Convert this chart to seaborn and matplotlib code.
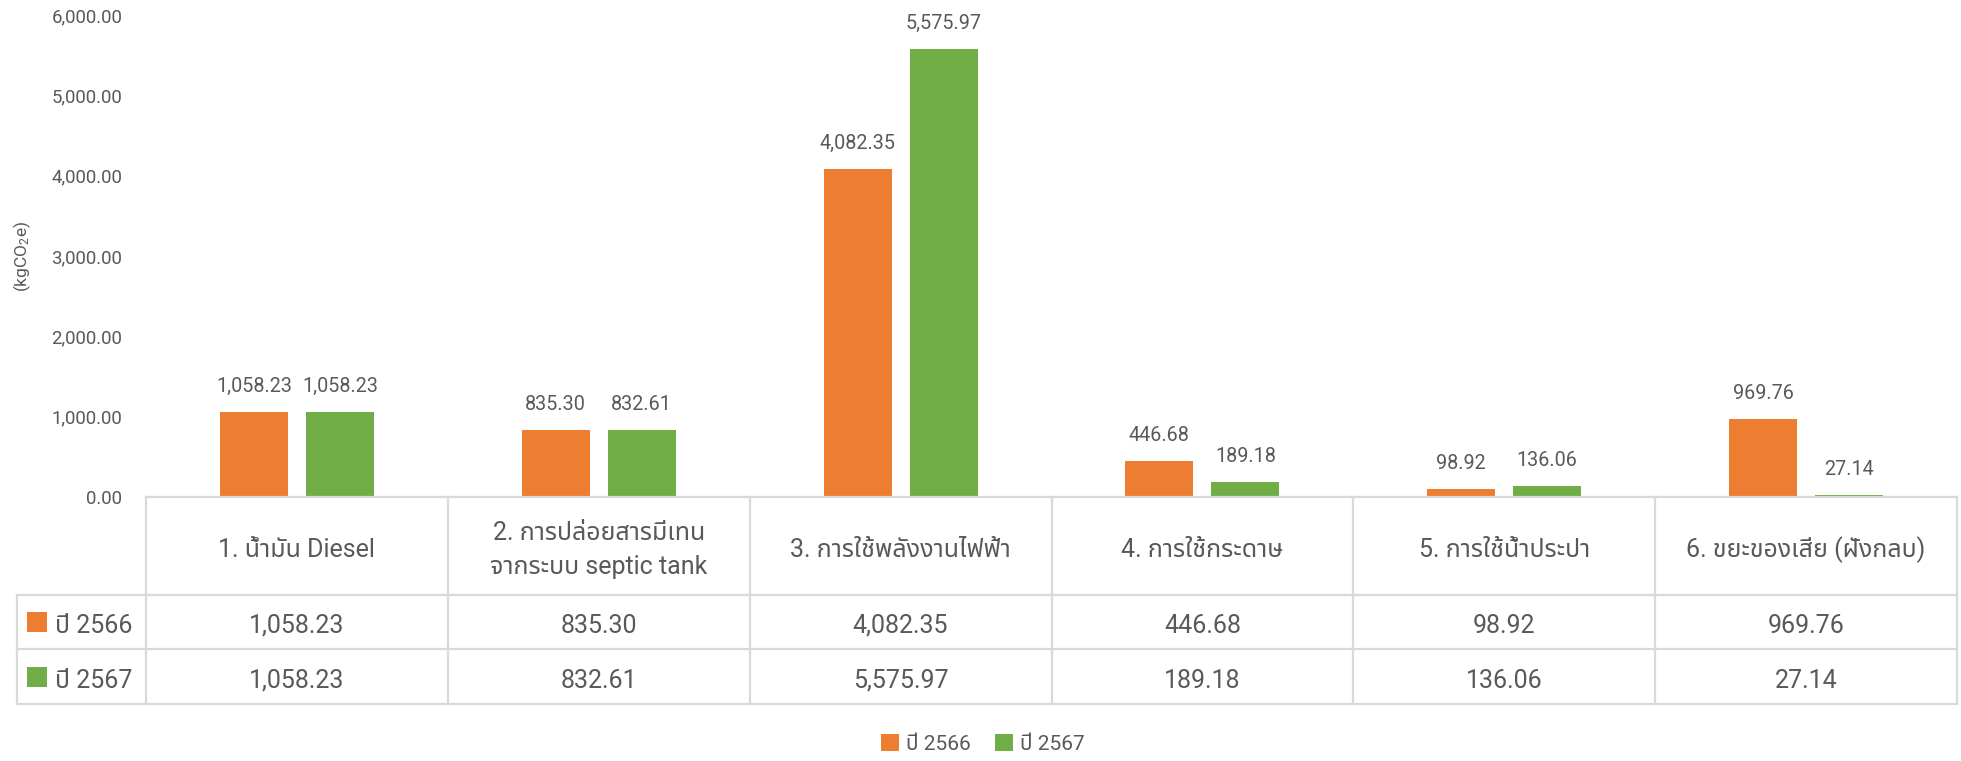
import matplotlib
matplotlib.use("Agg")
import matplotlib.pyplot as plt
import matplotlib.font_manager as fm
import matplotlib.transforms as mtrans
from matplotlib.ft2font import FT2Font
from matplotlib.patches import Patch, Rectangle
from matplotlib.lines import Line2D
from matplotlib.ticker import FuncFormatter
import seaborn as sns
import pandas as pd

# ---------------- data ----------------
categories = [
    "1. น้ำมัน Diesel",
    "2. การปล่อยสารมีเทน\nจากระบบ septic tank",
    "3. การใช้พลังงานไฟฟ้า",
    "4. การใช้กระดาษ",
    "5. การใช้น้ำประปา",
    "6. ขยะของเสีย (ฝังกลบ)",
]
series_names = ["ปี 2566", "ปี 2567"]
values_2566 = [1058.23, 835.30, 4082.35, 446.68, 98.92, 969.76]
values_2567 = [1058.23, 832.61, 5575.97, 189.18, 136.06, 27.14]
y_ticks = [0, 1000, 2000, 3000, 4000, 5000, 6000]
y_label = "(kgCO$_2$e)"

colors = ["#ED7D31", "#70AD47"]
text_color = "#595959"
line_color = "#D9D9D9"

# ---------------- fonts ----------------
sns.set_style("white")


def find_thai_font():
    prefs = ["Noto Sans Thai", "Noto Sans Thai Looped", "Sarabun", "Loma",
             "Garuda", "Waree", "Norasi", "Kinnari", "Umpush", "Laksaman"]
    found = []
    seen = set()
    for f in fm.fontManager.ttflist:
        if f.fname in seen:
            continue
        seen.add(f.fname)
        try:
            cm = FT2Font(f.fname).get_charmap()
        except Exception:
            continue
        if 0x0E01 in cm and 0x0E33 in cm and 0x0E49 in cm:
            found.append(f.name)
    for p in prefs:
        if p in found:
            return p
    return found[0] if found else None


thai = find_thai_font()
fam = ["Roboto"] + ([thai] if thai else []) + ["DejaVu Sans"]
plt.rcParams["font.family"] = fam
plt.rcParams["mathtext.fontset"] = "custom"
plt.rcParams["mathtext.rm"] = "Roboto"
plt.rcParams["mathtext.it"] = "Roboto"
plt.rcParams["mathtext.bf"] = "Roboto"

# ---------------- figure ----------------
W, H = 1961, 761
fig = plt.figure(figsize=(W / 100, H / 100), dpi=100)
ax_left, ax_right, ax_top, ax_bottom = 146, 1957, 15, 497
ax = fig.add_axes([ax_left / W, (H - ax_bottom) / H,
                   (ax_right - ax_left) / W, (ax_bottom - ax_top) / H])

df = pd.DataFrame({
    "category": categories * 2,
    "year": [series_names[0]] * len(categories) + [series_names[1]] * len(categories),
    "value": values_2566 + values_2567,
})
sns.barplot(data=df, x="category", y="value", hue="year", order=categories,
            hue_order=series_names, palette=colors, saturation=1,
            width=0.57, gap=0.21, errorbar=None, legend=False, linewidth=0, ax=ax)

ax.set_xlim(-0.5, len(categories) - 0.5)
ax.set_ylim(y_ticks[0], y_ticks[-1])
ax.set_yticks(y_ticks)
ax.yaxis.set_major_formatter(FuncFormatter(lambda v, _: f"{v:,.2f}"))
ax.tick_params(axis="y", length=0, pad=17, labelsize=13.4, labelcolor=text_color)
ax.set_xticks(range(len(categories)))
ax.set_xticklabels([])
ax.tick_params(axis="x", length=0)
ax.set_xlabel("")
ax.set_ylabel("")
for s in ax.spines.values():
    s.set_visible(False)
ax.grid(False)

# bar value labels
for cont, vals in zip(ax.containers, [values_2566, values_2567]):
    for bar, v in zip(cont, vals):
        ax.annotate(f"{v:,.2f}", xy=(bar.get_x() + bar.get_width() / 2, bar.get_height()),
                    xytext=(0, 14.4), textcoords="offset points", ha="center",
                    va="baseline", fontsize=14.2, color=text_color)

# y label
fig.text(22 / W, 1 - 256 / H, y_label, rotation=90, ha="center", va="center",
         fontsize=12.5, color=text_color)

# ---------------- data table ----------------
blend = mtrans.blended_transform_factory(ax.transData, ax.transAxes)
ah = ax_bottom - ax_top
col_w = (ax_right - ax_left) / len(categories)


def ya(ypix):
    return (ax_bottom - ypix) / ah


def xd(xpix):
    return -0.5 + (xpix - ax_left) / col_w


y_head_top, y_head_bot, y_r1_bot, y_r2_bot = 497, 595, 649, 704
x_outer = xd(17)
xr = len(categories) - 0.5
lw = 1.6


def hline(x0, x1, ypix):
    ax.add_artist(Line2D([x0, x1], [ya(ypix), ya(ypix)], transform=blend,
                         color=line_color, lw=lw, clip_on=False, solid_capstyle="projecting"))


def vline(x, y0, y1):
    ax.add_artist(Line2D([x, x], [ya(y0), ya(y1)], transform=blend,
                         color=line_color, lw=lw, clip_on=False, solid_capstyle="projecting"))


hline(-0.5, xr, y_head_top)
for yy in (y_head_bot, y_r1_bot, y_r2_bot):
    hline(x_outer, xr, yy)
vline(x_outer, y_head_bot, y_r2_bot)
for i in range(len(categories) + 1):
    vline(i - 0.5, y_head_top, y_r2_bot)

table_fs = 18
text_shift = 4
row_centers = [(y_r1_bot + y_head_bot) / 2, (y_r2_bot + y_r1_bot) / 2]
head_center = (y_head_top + y_head_bot) / 2 + text_shift
for i, cat in enumerate(categories):
    ax.text(i, ya(head_center), cat, transform=blend, ha="center",
            va="center", fontsize=table_fs, color=text_color, linespacing=1.55,
            clip_on=False)
    for r, vals in enumerate([values_2566, values_2567]):
        ax.text(i, ya(row_centers[r] + text_shift), f"{vals[i]:,.2f}", transform=blend,
                ha="center", va="center", fontsize=table_fs, color=text_color,
                clip_on=False)

# legend keys in table
for r, (name, c) in enumerate(zip(series_names, colors)):
    yc = row_centers[r]
    fig.patches.append(Rectangle((27 / W, 1 - (yc + 10) / H), 20 / W, 20 / H,
                                 transform=fig.transFigure, facecolor=c, edgecolor="none"))
    fig.text(55 / W, 1 - (yc + text_shift) / H, name, ha="left", va="center",
             fontsize=table_fs, color=text_color)

# bottom legend
handles = [Patch(facecolor=c, edgecolor="none", label=n) for n, c in zip(series_names, colors)]
fig.legend(handles=handles, loc="center", bbox_to_anchor=(983 / W, 1 - 744 / H), ncol=2,
           frameon=False, fontsize=15, handlelength=0.87, handleheight=0.87,
           handletextpad=0.35, columnspacing=1.15, labelcolor=text_color)

fig.savefig("out.png", dpi=100, facecolor="white")
